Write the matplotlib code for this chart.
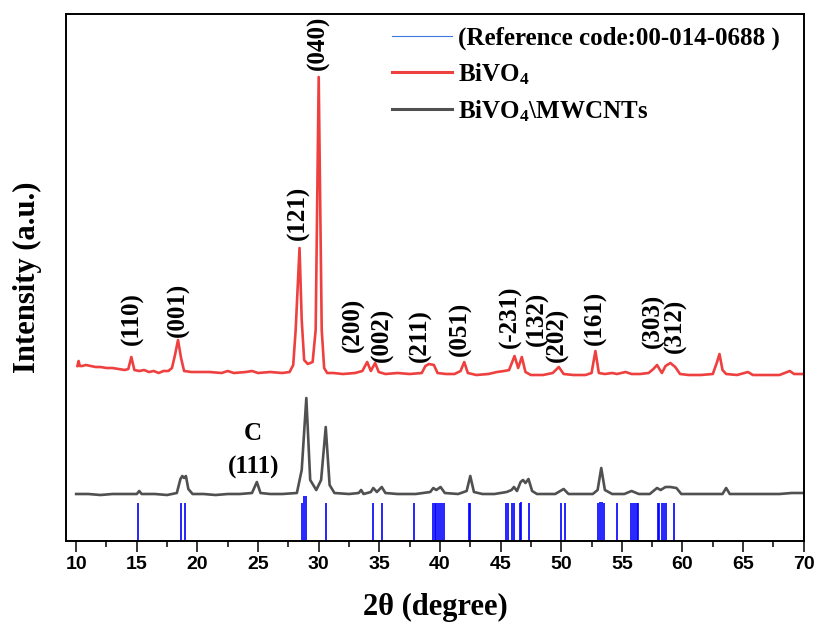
import numpy as np
import matplotlib
matplotlib.use("Agg")
import matplotlib.pyplot as plt
from matplotlib.lines import Line2D
from matplotlib.ticker import MultipleLocator

# ---- data (intensity in a.u., before stacking offset) ----
bivo4_2theta = [10.1, 10.2, 10.3, 10.5, 10.8, 11.2, 11.6, 12.0, 12.5, 13.0, 13.5, 14.0, 14.3, 14.55, 14.8,
                15.2, 15.6, 16.0, 16.4, 16.8, 17.2, 17.6, 17.9, 18.15, 18.4, 18.65, 18.9, 19.5, 20.0, 21.0,
                22.0, 22.5, 23.0, 24.0, 24.5, 25.0, 26.0, 27.0, 27.6, 27.9, 28.1, 28.42, 28.6, 28.8, 29.1,
                29.5, 29.75, 30.0, 30.25, 30.45, 30.7, 31.2, 32.0, 33.0, 33.6, 34.0, 34.3, 34.65, 34.95,
                35.5, 36.5, 37.5, 38.5, 38.8, 39.1, 39.5, 39.8, 40.5, 41.2, 41.7, 42.0, 42.3, 43.0, 44.0,
                44.7, 45.3, 45.7, 46.15, 46.45, 46.75, 47.05, 47.5, 48.5, 49.3, 49.8, 50.2, 51.0, 52.0,
                52.5, 52.82, 53.1, 53.6, 54.2, 54.6, 55.3, 55.8, 56.5, 57.2, 57.6, 57.9, 58.3, 58.6, 59.0,
                59.4, 59.8, 60.5, 61.5, 62.5, 62.85, 63.05, 63.3, 63.6, 64.5, 65.4, 65.8, 67.0, 68.0,
                68.85, 69.2, 70.0]
bivo4_int = [15, 20, 15, 15, 16, 15, 14, 14, 13, 13, 12, 11, 12, 24, 11,
             10, 11, 9, 10, 8, 10, 10, 13, 26, 41, 23, 10, 9, 9, 9,
             8, 10, 8, 9, 10, 8, 9, 8, 9, 16, 51, 133, 61, 21, 17,
             19, 51, 304, 51, 13, 8, 8, 7, 8, 10, 19, 10, 18, 9,
             7, 8, 7, 8, 15, 17, 16, 8, 7, 7, 10, 19, 8, 6, 7,
             9, 10, 11, 25, 13, 24, 9, 6, 6, 8, 14, 7, 6, 6,
             8, 30, 8, 7, 8, 7, 9, 7, 7, 8, 12, 16, 8, 15, 18,
             14, 7, 6, 6, 7, 19, 27, 11, 7, 6, 9, 6, 6, 6,
             10, 7, 7]

mwcnt_2theta = [10.0, 11.0, 12.0, 13.0, 14.0, 15.0, 15.2, 15.4, 16.5, 17.5, 18.3, 18.6, 18.75, 18.9, 19.05,
                19.25, 19.6, 20.5, 21.5, 22.5, 23.5, 24.5, 24.9, 25.2, 26.0, 27.0, 28.2, 28.6, 28.98,
                29.3, 29.8, 30.2, 30.58, 30.9, 31.3, 32.5, 33.3, 33.5, 33.7, 34.3, 34.5, 34.8, 35.2,
                35.5, 36.5, 38.0, 39.2, 39.45, 39.7, 40.05, 40.4, 41.5, 42.2, 42.5, 42.8, 43.5, 44.5,
                45.5, 45.9, 46.1, 46.35, 46.65, 46.85, 47.05, 47.3, 47.6, 48.0, 49.5, 50.2, 50.6, 51.5,
                52.6, 53.0, 53.3, 53.6, 54.2, 55.2, 55.8, 56.4, 57.3, 57.9, 58.2, 58.6, 59.0, 59.5,
                59.9, 61.0, 62.0, 63.3, 63.6, 63.9, 65.0, 66.5, 68.0, 69.0, 70.0]
mwcnt_int = [7, 7, 6, 7, 7, 7, 10, 7, 7, 6, 8, 22, 25, 23, 25,
             12, 7, 7, 6, 7, 7, 8, 19, 8, 7, 7, 8, 31, 103,
             21, 11, 21, 74, 16, 8, 7, 8, 11, 7, 9, 13, 9, 14,
             8, 7, 7, 9, 13, 11, 14, 8, 7, 10, 25, 9, 7, 7,
             9, 11, 14, 10, 19, 21, 18, 22, 10, 7, 7, 12, 7, 7,
             7, 11, 33, 11, 7, 7, 10, 7, 7, 13, 11, 14, 14, 13,
             7, 7, 7, 7, 13, 7, 7, 7, 7, 8, 8]

# reference pattern 00-014-0688
ref_2theta = [15.14, 18.66, 18.99, 28.59, 28.81, 28.95, 30.57, 34.48, 35.22, 37.89,
              39.43, 39.57, 39.70, 39.84, 39.98, 40.17, 40.30, 42.37, 42.51,
              45.48, 45.62, 45.95, 46.08, 46.58, 46.72, 47.35, 50.02, 50.35,
              53.07, 53.23, 53.34, 53.51, 54.64, 55.79, 55.93, 56.10, 56.23, 56.37,
              57.94, 58.10, 58.27, 58.46, 58.60, 59.31]
ref_int = [38, 38, 38, 38, 45, 45, 38, 38, 38, 38,
           38, 38, 38, 38, 38, 38, 38, 38, 38,
           38, 38, 38, 38, 38, 39, 38, 38, 38,
           38, 39, 39, 38, 38, 38, 38, 38, 38, 38,
           38, 38, 38, 38, 38, 38]

hkl_labels = ["(110)", "(001)", "(121)", "(040)", "(200)", "(002)", "(211)", "(051)",
              "(-231)", "(132)", "(202)", "(161)", "(303)", "(312)"]
hkl_2theta = [14.62, 18.42, 28.32, 29.97, 32.85, 35.25, 38.38, 41.68,
              45.81, 48.04, 49.69, 52.82, 57.61, 59.42]
hkl_ypos = [196, 204, 301, 471, 189, 179, 179, 185, 193, 195, 179, 196, 193, 188]

bivo4_offset = 160
mwcnt_offset = 40

plt.rcParams['mathtext.fontset'] = 'custom'
plt.rcParams['mathtext.rm'] = 'Liberation Serif:bold'
plt.rcParams['mathtext.it'] = 'Liberation Serif:bold'
plt.rcParams['mathtext.bf'] = 'Liberation Serif:bold'

fig = plt.figure(figsize=(8.16, 6.25), dpi=100)
ax = fig.add_axes([0.081, 0.1344, 0.904, 0.8432])

ax.vlines(ref_2theta, 0, ref_int, color='#0000ff', lw=1.2)
ax.plot(bivo4_2theta, np.array(bivo4_int) + bivo4_offset, color='#ef4040', lw=1.9)
ax.plot(mwcnt_2theta, np.array(mwcnt_int) + mwcnt_offset, color='#505050', lw=1.9)

serif_bold = dict(family='Liberation Serif', weight='bold')
for lab, xx, yy in zip(hkl_labels, hkl_2theta, hkl_ypos):
    ax.text(xx, yy, lab, rotation=90, ha='center', va='bottom', fontsize=18, **serif_bold)
ax.text(24.6, 108, "C", ha='center', va='center', fontsize=18, **serif_bold)
ax.text(24.6, 74, "(111)", ha='center', va='center', fontsize=18, **serif_bold)

ax.set_xlim(9.17, 70)
ax.set_ylim(0, 527)
ax.xaxis.set_major_locator(MultipleLocator(5))
ax.xaxis.set_minor_locator(MultipleLocator(2.5))
ax.tick_params(axis='x', which='major', direction='out', length=8, width=1.1, pad=3)
ax.tick_params(axis='x', which='minor', direction='out', length=4.5, width=1.1)
ax.set_yticks([])
for lab in ax.get_xticklabels():
    lab.set_fontfamily('Liberation Sans')
    lab.set_fontweight('bold')
    lab.set_fontsize(14)
for sp in ax.spines.values():
    sp.set_linewidth(1.4)

ax.set_xlabel("2θ (degree)", fontsize=22, labelpad=14, **serif_bold)
ax.set_ylabel("Intensity (a.u.)", fontsize=22, labelpad=17, **serif_bold)

handles = [Line2D([], [], color='#3a78e0', lw=0.8),
           Line2D([], [], color='#ef4040', lw=2.2),
           Line2D([], [], color='#505050', lw=2.2)]
labels = ["(Reference code:00-014-0688 )", r"BiVO$_4$", r"BiVO$_4$\MWCNTs"]
ax.legend(handles, labels, loc='upper left', bbox_to_anchor=(0.425, 1.0), frameon=False,
          prop=dict(family='Liberation Serif', weight='bold', size=18),
          handlelength=2.4, handletextpad=0.25, labelspacing=0.45, borderaxespad=0.3, borderpad=0.2)

fig.savefig("out.png", dpi=100)
